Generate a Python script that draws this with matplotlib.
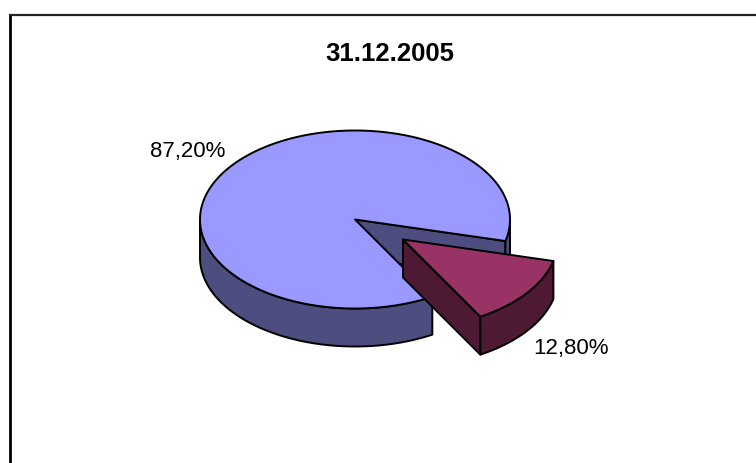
import numpy as np
import matplotlib
matplotlib.use("Agg")
import matplotlib.pyplot as plt
from matplotlib.patches import Polygon

title = "31.12.2005"
labels = ["87,20%", "12,80%"]
values = [87.2, 12.8]

W, H = 756, 464
plt.rcParams['font.family'] = ['Liberation Sans', 'DejaVu Sans']
fig = plt.figure(figsize=(W/100, H/100), dpi=100)
ax = fig.add_axes([0, 0, 1, 1])
ax.set_xlim(0, W); ax.set_ylim(H, 0); ax.axis('off')

cx, cy, a, b, depth = 355, 220.5, 155, 89, 38
ex, ey = 48, 20
span_small = 360 * values[1] / sum(values)
a0 = 14.0
a1 = a0 + span_small

def arc(t0, t1, x0, y0, n=120):
    t = np.radians(np.linspace(t0, t1, n))
    return np.c_[x0 + a*np.cos(t), y0 + b*np.sin(t)]

EC = 'black'; LW = 1.4
def poly(p, fc):
    ax.add_patch(Polygon(p, closed=True, fc=fc, ec=EC, lw=LW, joinstyle='round'))

TOP1, SIDE1 = '#9999FF', '#4D4D80'
TOP2, SIDE2 = '#993366', '#4D1933'

c = np.array([cx, cy]); d = np.array([0, depth])
e0 = arc(a0, a0, cx, cy, 1)[0]
poly(np.array([c, e0, e0 + d, c + d]), SIDE1)
w = arc(0.0, a0, cx, cy)
poly(np.vstack([w, (w + d)[::-1]]), SIDE1)
w = arc(a1, 180, cx, cy)
poly(np.vstack([w, (w + d)[::-1]]), SIDE1)
poly(np.vstack([[c], arc(a1, a0 + 360, cx, cy, 300)]), TOP1)

sx, sy = cx + ex, cy + ey
s = np.array([sx, sy])
e1 = arc(a1, a1, sx, sy, 1)[0]
poly(np.array([s, e1, e1 + d, s + d]), SIDE2)
w = arc(a0, a1, sx, sy)
poly(np.vstack([w, (w + d)[::-1]]), SIDE2)
poly(np.vstack([[s], w]), TOP2)

ax.plot([10, 10], [464, 15], color='black', lw=2.0, solid_capstyle='butt', zorder=5)
ax.plot([9, 756], [15.5, 15.5], color='#222222', lw=1.6, solid_capstyle='butt', zorder=5)
ax.text(389.5, 54, title, ha='center', va='center', fontsize=18.5, fontweight='bold')
ax.text(188, 152, labels[0], ha='center', va='center', fontsize=16)
ax.text(571, 349, labels[1], ha='center', va='center', fontsize=16)
fig.savefig('out.png', dpi=100)
